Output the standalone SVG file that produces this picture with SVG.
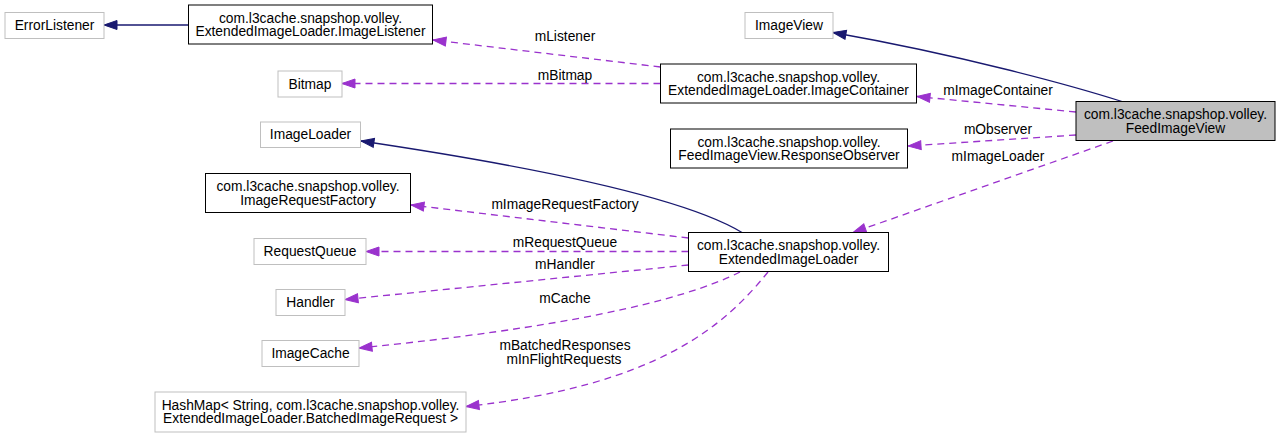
<svg xmlns="http://www.w3.org/2000/svg" width="1283" height="437" viewBox="0 0 1283 437">
<style>
text{font-family:"Liberation Sans",Arial,Helvetica,sans-serif;font-size:13.8px;fill:#000;text-anchor:middle}
.ext rect{fill:#fff;stroke:#bfbfbf;stroke-width:1}
.doc rect{fill:#fff;stroke:#000;stroke-width:1}
.cur rect{fill:#bfbfbf;stroke:#000;stroke-width:1}
.inh{fill:none;stroke:#191970;stroke-width:1.3;marker-end:url(#ab)}
.use{fill:none;stroke:#9a32cd;stroke-width:1.3;stroke-dasharray:7,5;marker-end:url(#ap)}
</style>
<defs>
<marker id="ab" markerUnits="userSpaceOnUse" markerWidth="15" markerHeight="12" refX="14" refY="6" orient="auto" viewBox="0 0 15 12">
<path d="M1,1.5 L14,6 L1,10.5 z" fill="#191970" stroke="#191970" stroke-width="1"/>
</marker>
<marker id="ap" markerUnits="userSpaceOnUse" markerWidth="15" markerHeight="12" refX="14" refY="6" orient="auto" viewBox="0 0 15 12">
<path d="M1,1.5 L14,6 L1,10.5 z" fill="#9a32cd" stroke="#9a32cd" stroke-width="1"/>
</marker>
</defs>
<rect width="1283" height="437" fill="#fff"/>
<g id="connectors">
<path class="inh" d="M188.5,25 L104,25"/>
<path class="inh" d="M1122,101.5 C1070,85 960,55 833,32.5"/>
<path class="inh" d="M742,232.5 C705,210 610,178 361,141"/>
<path class="use" d="M660.5,67 L433,40"/>
<path class="use" d="M660.5,83.5 L342,83.5"/>
<path class="use" d="M1076,112 L917,96.5"/>
<path class="use" d="M1076,135 L908,146"/>
<path class="use" d="M1113,141 L853,232.5"/>
<path class="use" d="M688.5,238 L411,205"/>
<path class="use" d="M688.5,251.5 L366,251.5"/>
<path class="use" d="M688.5,265 L345,299.5"/>
<path class="use" d="M740,272 C680,302 560,328 359,348"/>
<path class="use" d="M768,272 C725,325 660,385 466,406.5"/>
<text x="565" y="41">mListener</text>
<text x="565" y="79.5">mBitmap</text>
<text x="998" y="95">mImageContainer</text>
<text x="998" y="133.5">mObserver</text>
<text x="998" y="160.5">mImageLoader</text>
<text x="565" y="208.5">mImageRequestFactory</text>
<text x="565" y="247">mRequestQueue</text>
<text x="565" y="268.5">mHandler</text>
<text x="565" y="302.5">mCache</text>
<text x="565" y="349.5">mBatchedResponses</text>
<text x="564" y="364">mInFlightRequests</text>
</g>
<g id="ErrorListener" class="ext"><rect x="5" y="12.5" width="99" height="26"/><text x="54.5" y="30">ErrorListener</text></g>
<g id="ImageListener" class="doc"><rect x="188.5" y="5" width="244" height="39"/><text x="310.5" y="22.5">com.l3cache.snapshop.volley.</text><text x="310.5" y="36">ExtendedImageLoader.ImageListener</text></g>
<g id="Bitmap" class="ext"><rect x="278" y="71" width="64" height="26"/><text x="310" y="88.5">Bitmap</text></g>
<g id="ImageView" class="ext"><rect x="745" y="12.5" width="88" height="26"/><text x="789" y="30">ImageView</text></g>
<g id="ImageContainer" class="doc"><rect x="660.5" y="64" width="256" height="39"/><text x="788.5" y="81.5">com.l3cache.snapshop.volley.</text><text x="788.5" y="95">ExtendedImageLoader.ImageContainer</text></g>
<g id="FeedImageView" class="cur"><rect x="1076" y="101.5" width="199" height="39"/><text x="1175.5" y="119">com.l3cache.snapshop.volley.</text><text x="1175.5" y="132.5">FeedImageView</text></g>
<g id="ResponseObserver" class="doc"><rect x="670.5" y="129" width="237" height="39"/><text x="789" y="146.5">com.l3cache.snapshop.volley.</text><text x="789" y="160">FeedImageView.ResponseObserver</text></g>
<g id="ImageLoader" class="ext"><rect x="260.5" y="122" width="100" height="25.5"/><text x="310.5" y="139">ImageLoader</text></g>
<g id="ImageRequestFactory" class="doc"><rect x="205.5" y="173.5" width="205" height="39"/><text x="308" y="191">com.l3cache.snapshop.volley.</text><text x="308" y="204.5">ImageRequestFactory</text></g>
<g id="RequestQueue" class="ext"><rect x="254" y="238.5" width="112" height="26"/><text x="310" y="256">RequestQueue</text></g>
<g id="ExtendedImageLoader" class="doc"><rect x="688.5" y="232.5" width="200" height="39"/><text x="788.5" y="250">com.l3cache.snapshop.volley.</text><text x="788.5" y="263.5">ExtendedImageLoader</text></g>
<g id="Handler" class="ext"><rect x="276" y="289.5" width="69" height="26"/><text x="310.5" y="307">Handler</text></g>
<g id="ImageCache" class="ext"><rect x="262" y="340.5" width="97" height="26"/><text x="310.5" y="358">ImageCache</text></g>
<g id="HashMap" class="ext"><rect x="155" y="392" width="311" height="40"/><text x="310.5" y="409.5">HashMap&lt; String, com.l3cache.snapshop.volley.</text><text x="310.5" y="423">ExtendedImageLoader.BatchedImageRequest &gt;</text></g>
</svg>
